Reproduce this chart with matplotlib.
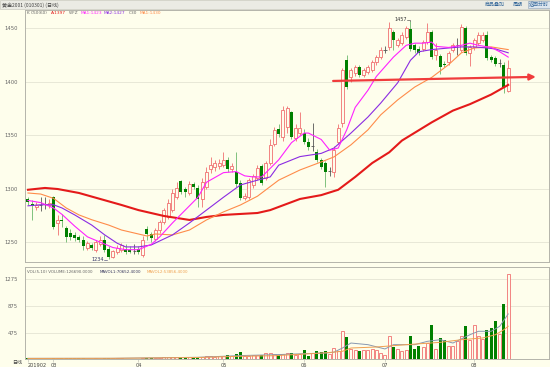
import matplotlib

matplotlib.use("Agg")
import matplotlib.pyplot as plt
import numpy as np
from matplotlib.patches import Rectangle

BG = "#fefeec"
UP, DOWN, DOWN_WICK, DOJI = "#f07070", "#008000", "#6cb86c", "#555555"
GRID, SPINE, TXT = "#e4e4d4", "#b4b4aa", "#666666"
MA10_C, MA20_C, MA30_C, MA60_C = "#ff22ff", "#8a2be2", "#ff8c4a", "#e41a1a"
ARROW_C = "#f03c3c"
VMA1_C, VMA2_C = "#8898b0", "#f0a050"
CJK = ["Noto Sans CJK SC", "DejaVu Sans"]

# daily candles, Feb 2019 -> Aug 2019
opens = [1290, 1286, 1283, 1285, 1285, 1285, 1292, 1268, 1271, 1263,
         1259, 1257, 1255, 1252, 1245, 1247, 1243, 1248, 1252, 1244,
         1236, 1241, 1243, 1244, 1243, 1242.5, 1244, 1238, 1262, 1258,
         1253, 1261, 1269, 1274, 1280, 1292, 1307, 1300, 1296, 1304,
         1301, 1290, 1302, 1318, 1320, 1321, 1322, 1327, 1318, 1316,
         1305, 1291, 1292, 1303, 1310, 1321, 1310, 1324, 1342, 1356,
         1348, 1358, 1372, 1347, 1352, 1352, 1344, 1339, 1334, 1327,
         1324, 1316, 1316, 1344, 1361, 1420, 1404, 1408, 1414, 1406,
         1409, 1411, 1418, 1423, 1429.5, 1432, 1446, 1434, 1436, 1442,
         1449, 1434, 1431, 1431, 1437, 1446, 1425, 1424, 1417, 1418,
         1430, 1434, 1430, 1450, 1427, 1432, 1436, 1439, 1444, 1423,
         1422, 1417, 1416, 1391]
closes = [1288, 1284, 1285, 1284.5, 1285.5, 1287, 1264, 1271, 1270, 1255,
          1255, 1254, 1252, 1246, 1249, 1245, 1250, 1252, 1243, 1236,
          1242, 1245, 1247, 1241, 1241, 1242, 1241, 1252, 1258, 1254,
          1261, 1269, 1280, 1287, 1296, 1301, 1297, 1297, 1304, 1302,
          1290, 1306, 1316, 1322, 1324, 1324, 1327, 1318, 1321, 1304,
          1291, 1293, 1308, 1312, 1319, 1305, 1324, 1341, 1355, 1351,
          1374, 1375, 1348, 1357, 1357, 1344, 1339, 1339.5, 1327, 1320,
          1316, 1316.5, 1336, 1357, 1411, 1395, 1411, 1414, 1406, 1411,
          1414, 1418, 1423, 1430, 1430, 1450, 1439, 1439, 1444, 1450,
          1431, 1430, 1427, 1437, 1446, 1423, 1430, 1414, 1416, 1427,
          1434, 1434.5, 1451, 1427, 1432, 1439, 1444, 1444, 1422, 1420,
          1417, 1417.5, 1395, 1413]
highs = [1292, 1289, 1288, 1292, 1292, 1290, 1293, 1275, 1276, 1265,
         1262, 1260, 1257, 1256, 1251, 1249, 1252, 1256, 1257, 1246,
         1243, 1247, 1249, 1248, 1246, 1248, 1246, 1256, 1265, 1260,
         1263, 1271, 1282, 1290, 1300, 1306, 1308, 1302, 1307, 1306,
         1303, 1310, 1320, 1330, 1327, 1328, 1334, 1330, 1324, 1334,
         1308, 1296, 1310, 1314, 1322, 1323, 1326, 1346, 1358, 1360,
         1377, 1377, 1373, 1360, 1372, 1356, 1347, 1361, 1337, 1329,
         1326, 1320, 1340, 1360, 1413, 1425, 1413, 1416, 1416, 1413,
         1416, 1420, 1425, 1432, 1433, 1456, 1448, 1441, 1446, 1452,
         1457, 1436, 1433, 1439, 1455, 1448, 1436, 1426, 1419, 1429,
         1436, 1441, 1454, 1452, 1434, 1441, 1446, 1446, 1447, 1425,
         1424, 1421, 1418, 1420]
lows = [1285, 1271, 1280, 1279, 1281, 1282, 1262, 1257, 1264, 1250,
        1252, 1251, 1250, 1243, 1243, 1243, 1241, 1246, 1241, 1234,
        1235, 1239, 1241, 1239, 1240, 1239, 1239, 1236, 1252, 1250,
        1251, 1259, 1267, 1272, 1278, 1290, 1295, 1292, 1294, 1300,
        1283, 1283, 1300, 1315, 1317, 1318, 1320, 1316, 1316, 1302,
        1289, 1289, 1290, 1301, 1308, 1303, 1308, 1322, 1340, 1348,
        1345, 1352, 1346, 1345, 1350, 1342, 1336, 1335, 1325, 1318,
        1302, 1312, 1311, 1342, 1358, 1393, 1400, 1405, 1404, 1404,
        1407, 1409, 1416, 1421, 1427, 1430, 1430, 1432, 1434, 1440,
        1429, 1427, 1425, 1429, 1435, 1421, 1420, 1407, 1414, 1416,
        1428, 1425, 1428, 1425, 1415, 1430, 1434, 1437, 1420, 1418,
        1415, 1414, 1389, 1390]
# volume, in hundreds
volumes = [110, 107, 107, 106, 106, 107, 118, 109, 119, 119,
           112, 110, 109, 112, 107, 107, 109, 107, 110, 113,
           110, 109, 109, 107, 107, 106, 107, 115, 112, 110,
           112, 115, 122, 126, 129, 126, 123, 118, 123, 118,
           129, 134, 137, 141, 132, 137, 144, 159, 144, 169,
           207, 144, 151, 156, 159, 159, 184, 181, 173, 163,
           173, 188, 184, 163, 178, 232, 144, 188, 222, 207,
           222, 169, 261, 217, 506, 422, 247, 227, 213, 227,
           227, 247, 236, 188, 163, 441, 276, 247, 217, 232,
           437, 247, 290, 276, 334, 598, 247, 408, 378, 290,
           290, 364, 437, 583, 378, 598, 437, 393, 525, 554,
           657, 466, 906, 1345]

# moving averages (candle index, value)
ma10_x = [0, 3, 6, 8, 11, 14, 17, 20, 23, 26, 29, 31, 34, 37, 40, 42, 46, 49, 51, 53, 55,
          59, 62, 65, 66, 69, 71, 73, 75, 77, 80, 82, 86, 89, 91, 93, 95, 96, 99, 102,
          104, 106, 109, 111, 113]
ma10 = [1289, 1287, 1282, 1276, 1265, 1255, 1250, 1245, 1243, 1243, 1248, 1255, 1268, 1280,
        1292, 1306, 1315, 1316, 1312, 1311, 1311, 1327, 1343, 1352, 1352, 1346, 1336, 1338,
        1355, 1376, 1392, 1405, 1423, 1434, 1436, 1436, 1437, 1433, 1432, 1434, 1436, 1434,
        1432, 1428, 1423]
ma20_x = [0, 3, 6, 8, 11, 15, 18, 21, 23, 26, 29, 30, 34, 38, 42, 46, 50, 54, 57, 59, 64,
          69, 72, 76, 80, 83, 87, 90, 92, 95, 99, 102, 105, 108, 110, 113]
ma20 = [1284, 1285, 1285, 1282, 1275.5, 1266, 1257, 1249, 1245.6, 1245.6, 1247.4, 1249.3,
        1256.8, 1268, 1280, 1292, 1303.5, 1308, 1311, 1322, 1330, 1333, 1338, 1352, 1367,
        1380, 1399, 1420, 1428, 1430, 1431.5, 1432.5, 1432.5, 1431.5, 1430.6, 1427]
ma30_x = [0, 3, 6, 9, 12, 15, 19, 22, 25, 28, 30, 34, 38, 42, 46, 50, 54, 59, 64, 69, 72,
          76, 80, 83, 87, 91, 95, 99, 102, 105, 109, 113]
ma30 = [1296, 1295, 1291, 1282, 1275.5, 1271, 1266, 1261.4, 1258.6, 1255.8, 1257.7, 1256.8,
        1261.4, 1270.8, 1278.3, 1284.8, 1293, 1308, 1317.5, 1325, 1329.7, 1341, 1355, 1369,
        1383, 1395, 1404, 1416, 1427, 1431.5, 1432.5, 1430]
ma60_x = [0, 4, 7, 12, 17, 22, 26, 32, 38, 42, 46, 50, 54, 57, 64, 69, 73, 77, 81, 85, 88,
          95, 100, 104, 109, 113]
ma60 = [1299, 1300.7, 1299.7, 1296, 1290.4, 1284.8, 1280, 1274.5, 1270.8, 1273.6, 1275.5,
        1276.4, 1277.3, 1280, 1290.4, 1294, 1299, 1311, 1324, 1334, 1345, 1362, 1373, 1379,
        1388, 1397]
mavol1_x = [0, 20, 40, 50, 58, 70, 72, 74, 76, 80, 84, 86, 91, 94, 97, 100, 104, 106, 109, 111, 113]
mavol1 = [110, 110, 125, 150, 163, 188, 200, 261, 334, 310, 247, 310, 310, 359, 383, 334,
          456, 506, 506, 579, 760]
mavol2_x = [0, 20, 40, 50, 58, 70, 74, 76, 82, 89, 97, 102, 107, 110, 112, 113]
mavol2 = [108, 110, 122, 140, 148, 190, 213, 261, 276, 310, 344, 383, 408, 456, 530, 580]

month_pos = [0, 6, 26, 46, 65, 84, 105]
month_labels = ["201902", "03", "04", "05", "06", "07", "08"]
price_ticks = [1250, 1300, 1350, 1400, 1450]
vol_ticks = [475, 875, 1275]

# trend arrow (start / end: candle index, price)
arrow_from = (71.8, 1400.7)
arrow_to = (119.5, 1404.5)
hi_mark = (90, 1457)
lo_mark = (19, 1234)


def px(x, y):
    return x / 550, 1 - y / 367


def main() -> None:
    fig = plt.figure(figsize=(5.5, 3.67), dpi=100, facecolor=BG)
    ax = fig.add_axes([25 / 550, 1 - 262 / 367, 524 / 550, 252 / 367], facecolor=BG)
    vax = fig.add_axes([25 / 550, 1 - 359 / 367, 524 / 550, 92 / 367], facecolor=BG, sharex=ax)

    o, c, h, l = (np.array(a, float) for a in (opens, closes, highs, lows))
    v = np.array(volumes, float)
    idx = np.arange(len(c))
    up = c - o >= 1
    dn = o - c >= 1
    dj = ~(up | dn)

    # candles
    ax.vlines(idx[up], l[up], h[up], color=UP, lw=0.6, zorder=2)
    ax.vlines(idx[dn], l[dn], h[dn], color=DOWN_WICK, lw=0.6, zorder=2)
    ax.vlines(idx[dj], l[dj], h[dj], color=DOJI, lw=0.6, zorder=2)
    ax.bar(idx[up], (c - o)[up], bottom=o[up], width=0.7, facecolor=BG, edgecolor=UP, lw=0.6, zorder=3)
    ax.bar(idx[dn], (o - c)[dn], bottom=c[dn], width=0.7, color=DOWN, lw=0, zorder=3)
    ax.hlines(c[dj], idx[dj] - 0.4, idx[dj] + 0.4, color=DOJI, lw=0.6, zorder=3)

    ax.plot(ma60_x, ma60, color=MA60_C, lw=1.5, zorder=4)
    ax.plot(ma30_x, ma30, color=MA30_C, lw=0.8, zorder=4)
    ax.plot(ma20_x, ma20, color=MA20_C, lw=0.8, zorder=4)
    ax.plot(ma10_x, ma10, color=MA10_C, lw=0.8, zorder=4)

    ax.annotate("", xy=arrow_to, xytext=arrow_from, zorder=6,
                arrowprops=dict(arrowstyle="-|>", color=ARROW_C, lw=1.6, mutation_scale=9,
                                shrinkA=0, shrinkB=0))
    ax.text(hi_mark[0] - 0.9, hi_mark[1] + 1, f"{hi_mark[1]}", fontsize=3.6, color="#333333",
            ha="right", va="center", zorder=6)
    ax.plot([hi_mark[0] - 0.8, hi_mark[0], hi_mark[0]], [hi_mark[1] + 1, hi_mark[1] + 1, hi_mark[1]],
            color="#333333", lw=0.4, zorder=6)
    ax.text(lo_mark[0] - 1.2, lo_mark[1] - 0.5, f"{lo_mark[1]}", fontsize=3.6, color="#333366",
            ha="right", va="center", zorder=6)
    ax.plot([lo_mark[0] - 1.1, lo_mark[0] - 0.3], [lo_mark[1] - 0.5, lo_mark[1] - 0.5],
            color="#333366", lw=0.4, zorder=6)

    ax.set_xlim(-0.7, 122.6)
    ax.set_ylim(1231.5, 1467)
    ax.set_yticks(price_ticks)
    ax.grid(axis="y", color=GRID, lw=0.6)
    ax.set_axisbelow(True)
    ax.tick_params(axis="y", length=0, labelsize=3.8, labelcolor=TXT, pad=5)
    ax.tick_params(axis="x", bottom=False, labelbottom=False)

    # volume
    vup = up | dj
    vax.bar(idx[vup], v[vup], width=0.7, facecolor=BG, edgecolor=UP, lw=0.6, zorder=3)
    vax.bar(idx[dn], v[dn], width=0.7, color=DOWN, lw=0, zorder=3)
    vax.plot(mavol1_x, mavol1, color=VMA1_C, lw=0.7, zorder=4)
    vax.plot(mavol2_x, mavol2, color=VMA2_C, lw=0.7, zorder=4)
    vax.set_ylim(100, 1448)
    vax.set_yticks(vol_ticks)
    vax.grid(axis="y", color=GRID, lw=0.6)
    vax.set_axisbelow(True)
    vax.tick_params(axis="y", length=0, labelsize=3.8, labelcolor=TXT, pad=5)
    vax.set_xticks(month_pos)
    vax.set_xticklabels(month_labels)
    vax.tick_params(axis="x", length=2, width=0.4, color=SPINE, labelsize=3.6, labelcolor="#444444", pad=1)
    vax.get_xticklabels()[0].set_ha("left")

    for a in (ax, vax):
        for s in a.spines.values():
            s.set_color(SPINE)
            s.set_linewidth(0.7)

    # title strip
    fig.add_artist(Rectangle(px(0, 9), 1, 9 / 367, transform=fig.transFigure,
                             facecolor="#ebebe4", edgecolor="#c8c8c0", lw=0.5))
    fig.text(*px(2, 4.8), "黄金2001 (010301) (日线)", fontsize=3.6, color="#444444",
             va="center", family=CJK)
    fig.text(*px(485, 4.8), "商品叠加", fontsize=3.6, color="#336699", va="center", family=CJK)
    fig.text(*px(513, 4.8), "周期", fontsize=3.6, color="#336699", va="center", family=CJK)
    fig.text(*px(529, 4.8), "返回分时", fontsize=3.6, color="#336699", va="center", family=CJK,
             bbox=dict(boxstyle="square,pad=0.15", fc="#dde6ee", ec="#8aa0b8", lw=0.4))

    # legend line of the price panel
    legend = [(27, "K", TXT), (31, "C50(60)", TXT), (51, "A:1397", MA60_C), (69, "WFZ", TXT),
              (81, "MA1:1423", MA10_C), (104, "MA2:1427", MA20_C), (129, "C30", TXT),
              (140, "MA1:1430", MA30_C)]
    for x, s, col in legend:
        fig.text(*px(x, 13.5), s, fontsize=3.1, color=col, va="center")
    vlegend = [(27, "VOL(5,10) VOLUME:126690.0000", TXT), (100, "MAVOL1:70652.4000", "#33335a"),
               (147, "MAVOL2:53856.4000", VMA2_C)]
    for x, s, col in vlegend:
        fig.text(*px(x, 272), s, fontsize=2.9, color=col, va="center")
    fig.text(*px(12, 363), "日线", fontsize=3.6, color="#444444", va="center", family=CJK)

    fig.savefig("out.png", dpi=100, facecolor=BG)


if __name__ == "__main__":
    main()
